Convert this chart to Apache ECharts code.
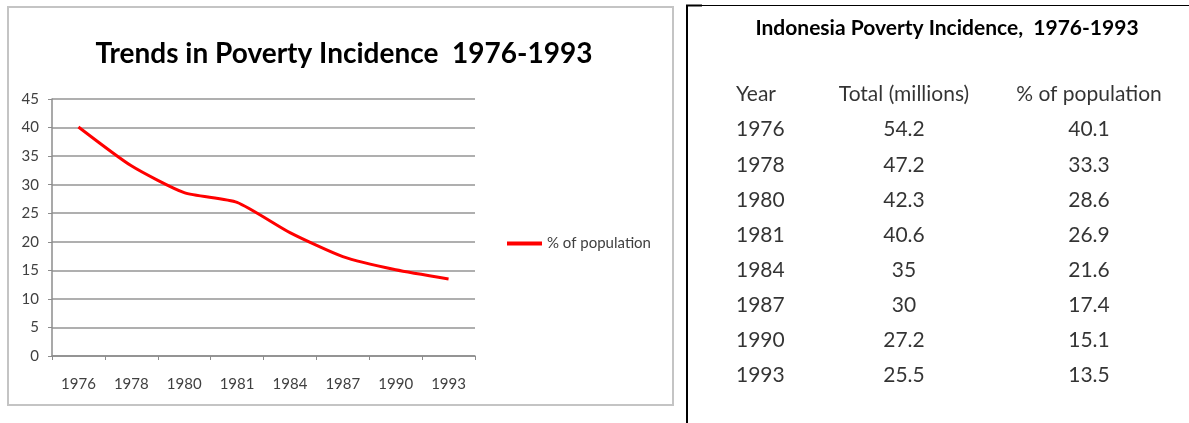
<!DOCTYPE html>
<html>
<head>
<meta charset="utf-8">
<script src="https://cdn.jsdelivr.net/npm/echarts@6/dist/echarts.min.js"></script>
<style>
html,body{margin:0;padding:0;background:#fff;}
#chart{width:1189px;height:423px;}
</style>
</head>
<body>
<div id="chart"></div>
<script>
// ---- Data ----
const years = ['1976', '1978', '1980', '1981', '1984', '1987', '1990', '1993'];
const totalMillions = ['54.2', '47.2', '42.3', '40.6', '35', '30', '27.2', '25.5'];
const pctPopulation = [40.1, 33.3, 28.6, 26.9, 21.6, 17.4, 15.1, 13.5];
const yTicks = { min: 0, max: 45, interval: 5 };
const tableHeaders = ['Year', 'Total (millions)', '% of population'];
const chartTitle = 'Trends in Poverty Incidence  1976-1993';
const tableTitle = 'Indonesia Poverty Incidence,  1976-1993';
const seriesName = '% of population';

// ---- Layout constants (table columns in pixel units of hidden axis) ----
const colX = [48, 216, 401];
const colAlign = ['left', 'center', 'center'];
const FONT = 'Lato, "Open Sans", sans-serif';
const HDR = 'hdr';
const rowKeys = [HDR].concat(years);

const cellLabel = (align) => ({
  show: true, position: 'inside', align: align, verticalAlign: 'middle',
  color: '#000', fontSize: 21, fontFamily: FONT,
  formatter: p => p.value[2]
});

const chart = echarts.init(document.getElementById('chart'), null, { renderer: 'canvas' });
chart.setOption({
  animation: false,
  backgroundColor: '#fff',
  title: [
    { text: chartTitle, left: 339, top: 35, textAlign: 'center',
      textStyle: { fontFamily: FONT, fontWeight: 'bold', fontSize: 28, color: '#000' } },
    { text: tableTitle, left: 942, top: 13, textAlign: 'center',
      textStyle: { fontFamily: FONT, fontWeight: 'bold', fontSize: 21, color: '#000' } }
  ],
  legend: {
    data: [seriesName], left: 502, top: 231, icon: 'rect',
    itemWidth: 35, itemHeight: 4, itemGap: 5,
    textStyle: { fontFamily: FONT, fontSize: 15, color: '#404040' }
  },
  grid: [
    { left: 52, top: 99, width: 423, height: 257 },
    { left: 688, right: 0, top: 77, height: 316 }
  ],
  xAxis: [
    { type: 'category', gridIndex: 0, data: years, boundaryGap: true,
      axisLine: { show: true, lineStyle: { color: '#8c8c8c', width: 1.5 } },
      axisTick: { show: true, length: 4, interval: 0, lineStyle: { color: '#8c8c8c' } },
      axisLabel: { interval: 0, margin: 21, fontSize: 15, fontFamily: FONT, color: '#404040' } },
    { type: 'value', gridIndex: 1, min: 0, max: 501, show: false }
  ],
  yAxis: [
    { type: 'value', gridIndex: 0, min: yTicks.min, max: yTicks.max, interval: yTicks.interval,
      axisLine: { show: true, lineStyle: { color: '#8c8c8c', width: 1.5 } },
      axisTick: { show: true, length: 4, lineStyle: { color: '#8c8c8c' } },
      axisLabel: { margin: 13, fontSize: 15, fontFamily: FONT, color: '#404040' },
      splitLine: { show: true, lineStyle: { color: '#959595', width: 1.5 } } },
    { type: 'category', gridIndex: 1, data: rowKeys, inverse: true, show: false }
  ],
  series: [
    { name: seriesName, type: 'line', xAxisIndex: 0, yAxisIndex: 0, data: pctPopulation,
      smooth: 0.2, showSymbol: false, symbol: 'none',
      lineStyle: { color: '#ff0000', width: 3 }, itemStyle: { color: '#ff0000' } },
    { type: 'scatter', xAxisIndex: 1, yAxisIndex: 1, symbolSize: 0, silent: true,
      data: tableHeaders.map((h, i) => ({ value: [colX[i], HDR, h], label: { align: colAlign[i] } })),
      label: cellLabel('center') },
    { type: 'scatter', xAxisIndex: 1, yAxisIndex: 1, symbolSize: 0, silent: true,
      data: years.map(y => [colX[0], y, y]), label: cellLabel('left') },
    { type: 'scatter', xAxisIndex: 1, yAxisIndex: 1, symbolSize: 0, silent: true,
      data: totalMillions.map((v, i) => [colX[1], years[i], v]), label: cellLabel('center') },
    { type: 'scatter', xAxisIndex: 1, yAxisIndex: 1, symbolSize: 0, silent: true,
      data: pctPopulation.map((v, i) => [colX[2], years[i], v.toFixed(1)]), label: cellLabel('center') }
  ],
  graphic: [
    { type: 'rect', silent: true, shape: { x: 8, y: 7, width: 665, height: 398 },
      style: { fill: 'none', stroke: '#c4c4c4', lineWidth: 2 } },
    { type: 'line', silent: true, shape: { x1: 687, y1: 5, x2: 687, y2: 423 },
      style: { stroke: '#000', lineWidth: 2 } },
    { type: 'line', silent: true, shape: { x1: 686, y1: 5.5, x2: 1189, y2: 5.5 },
      style: { stroke: '#000', lineWidth: 1 } },
    { type: 'line', silent: true, shape: { x1: 686, y1: 5.5, x2: 702, y2: 5.5 },
      style: { stroke: '#000', lineWidth: 2 } }
  ]
});
</script>
</body>
</html>
